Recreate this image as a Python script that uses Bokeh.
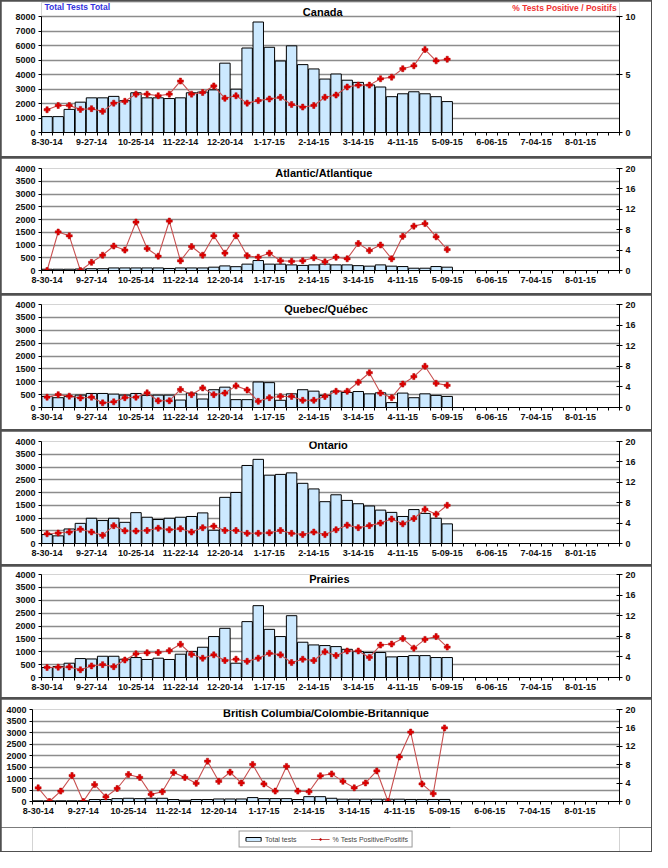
from bokeh.plotting import figure
from bokeh.models import Range1d, LinearAxis, FixedTicker, Label, Legend, LegendItem
from bokeh.layouts import column
from bokeh.embed import file_html
from bokeh.resources import INLINE

# ---------------- data ----------------
N_WEEKS = 52
TICK_EVERY = 4
tick_labels = ["8-30-14", "9-27-14", "10-25-14", "11-22-14", "12-20-14", "1-17-15",
               "2-14-15", "3-14-15", "4-11-15", "5-09-15", "6-06-15", "7-04-15", "8-01-15"]

canada_tests = [1100, 1100, 1600, 2100, 2400, 2400, 2500, 2200, 2750, 2400, 2400, 2350, 2400,
                2750, 2800, 2950, 4800, 3000, 5850, 7650, 5900, 4950, 6000, 4700, 4400, 3700,
                4050, 3620, 3470, 3290, 3150, 2480, 2680, 2820, 2680, 2480, 2140]
canada_pct = [1.97, 2.34, 2.34, 2.0, 2.06, 1.83, 2.54, 2.7, 3.32, 3.32, 3.18, 3.32, 4.45,
              3.32, 3.46, 4.03, 2.96, 3.18, 2.54, 2.76, 2.9, 3.04, 2.42, 2.2, 2.34, 3.05,
              3.24, 3.94, 4.1, 4.1, 4.65, 4.79, 5.52, 5.77, 7.18, 6.2, 6.34]

atl_tests = [50, 50, 50, 60, 70, 70, 100, 100, 100, 100, 100, 80, 100, 100, 100, 130, 180,
             150, 250, 390, 250, 250, 220, 200, 220, 250, 220, 220, 190, 170, 220, 170, 155,
             90, 90, 155, 130]
atl_pct = [0, 7.55, 6.8, 0, 1.6, 3.0, 4.8, 4.0, 9.5, 4.3, 2.8, 9.7, 1.9, 4.7, 3.0, 6.8, 3.4,
           6.8, 2.9, 2.6, 3.4, 1.9, 1.8, 1.9, 2.5, 1.7, 2.6, 2.3, 5.3, 3.9, 5.0, 2.3, 6.7,
           8.7, 9.2, 6.6, 4.1]

que_tests = [430, 380, 430, 480, 545, 545, 520, 480, 545, 470, 480, 480, 290, 560, 330, 690,
             790, 305, 305, 990, 965, 280, 530, 690, 635, 470, 635, 585, 620, 530, 570, 190,
             560, 380, 530, 470, 430]
que_pct = [2.0, 2.5, 2.2, 1.85, 2.0, 0.9, 1.1, 1.9, 2.0, 2.85, 1.3, 1.3, 3.5, 2.5, 3.8, 2.5,
           2.8, 4.2, 3.4, 1.2, 1.9, 2.15, 2.15, 1.4, 1.4, 2.15, 3.15, 3.15, 4.9, 6.75, 2.8,
           1.9, 4.55, 6.0, 8.0, 4.7, 4.3]

ont_tests = [350, 300, 570, 790, 990, 900, 990, 830, 1210, 1030, 940, 990, 1030, 1060, 1200,
             520, 1810, 2000, 3060, 3300, 2680, 2710, 2770, 2360, 2140, 1640, 1910, 1690,
             1560, 1470, 1310, 1220, 1060, 1330, 1180, 990, 770]
ont_pct = [1.9, 2.05, 2.25, 2.8, 2.25, 1.6, 3.5, 2.5, 2.45, 2.55, 3.0, 2.7, 2.9, 2.25, 3.1,
           3.4, 2.55, 2.55, 2.0, 2.0, 2.1, 2.55, 2.0, 1.75, 2.25, 1.75, 2.7, 3.6, 3.1, 3.5,
           4.0, 4.8, 3.85, 4.9, 6.7, 5.75, 7.5]

pra_tests = [390, 425, 555, 735, 720, 825, 825, 710, 775, 700, 750, 700, 905, 1005, 1175,
             1590, 1910, 555, 2170, 2790, 1870, 1590, 2400, 1370, 1265, 1240, 1200, 1095,
             1005, 970, 970, 800, 815, 850, 850, 775, 775]
pra_pct = [1.95, 2.0, 2.05, 1.5, 2.25, 2.5, 2.1, 3.4, 4.6, 4.8, 4.85, 5.2, 6.45, 4.5, 3.75,
           4.4, 3.3, 3.55, 3.15, 3.75, 4.7, 4.4, 2.9, 3.55, 3.3, 5.0, 4.25, 5.15, 5.15, 3.9,
           6.3, 6.5, 7.55, 5.7, 7.4, 7.95, 5.9]

bc_tests = [30, 30, 30, 30, 30, 85, 85, 125, 140, 125, 140, 140, 85, 55, 85, 85, 110, 110,
            110, 170, 125, 125, 125, 85, 210, 210, 140, 100, 100, 100, 100, 100, 100, 90, 90,
            90, 90]
bc_pct = [2.97, 0, 2.26, 5.65, 0, 3.67, 1.0, 2.83, 5.87, 5.23, 1.55, 2.12, 6.29, 5.23, 3.96,
          8.76, 4.38, 6.36, 4.03, 8.06, 3.82, 2.26, 7.63, 2.26, 2.12, 5.58, 6.0, 4.38, 2.97,
          4.03, 6.64, 0, 9.68, 15.1, 3.82, 1.7, 16.0]

legend_labels = ["Total tests", "% Tests Positive/Positifs"]

# ---------------- style ----------------
FONT = "Liberation Sans"
BAR_FILL = "#cce9ff"
LINE_COLOR = "#c85050"
MARK_COLOR = "#e00000"
MARK_EDGE = "#b00000"
GRID_COLOR = "#8c8c8c"
W = 650


def style_axis(ax):
    ax.axis_line_color = "black"
    ax.major_label_standoff = 3
    ax.major_label_text_font = FONT
    ax.major_label_text_font_style = "bold"
    ax.major_label_text_font_size = "9px"
    ax.major_label_text_color = "#111111"


def draw_series(p, tests, pct):
    idx = list(range(len(tests)))
    rb = p.vbar(x=idx, top=tests, bottom=0, width=0.94, fill_color=BAR_FILL,
                line_color="black", line_width=1)
    rl = p.line(idx, pct, y_range_name="pct", line_color=LINE_COLOR, line_width=1.1)
    rs = p.scatter(idx, pct, y_range_name="pct", marker="plus", size=6,
                   fill_color=MARK_COLOR, line_color=MARK_EDGE, line_width=0.5)
    return rb, rl, rs


def make_panel(title, tests, pct, ymax, ystep, pmax, pticks, height, borders, title_xy,
               margin, header=False, headroom=1.0):
    left, right, top, bottom = borders
    p = figure(width=W, height=height, output_backend="svg", toolbar_location=None, tools="",
               x_range=Range1d(-0.5, N_WEEKS - 0.5), y_range=Range1d(0, ymax * headroom),
               min_border_left=left, min_border_right=right, min_border_top=top,
               min_border_bottom=bottom, margin=margin)
    p.extra_y_ranges = {"pct": Range1d(0, pmax * headroom)}
    p.outline_line_color = None
    p.border_fill_color = "white"
    p.background_fill_color = "white"

    # x axis: labels at week centres, tick marks between weeks
    xa = p.xaxis[0]
    xa.ticker = FixedTicker(ticks=[i * TICK_EVERY for i in range(len(tick_labels))],
                            minor_ticks=[i - 0.5 for i in range(N_WEEKS + 1)])
    xa.major_label_overrides = {i * TICK_EVERY: lab for i, lab in enumerate(tick_labels)}
    xa.major_tick_line_color = None
    xa.major_tick_out = 3
    xa.major_tick_in = 0
    xa.minor_tick_out = 3
    xa.minor_tick_in = 0
    xa.minor_tick_line_color = "black"
    style_axis(xa)
    p.xgrid.visible = False

    # left axis
    lticks = list(range(0, ymax + 1, ystep))
    ya = p.yaxis[0]
    ya.ticker = FixedTicker(ticks=lticks)
    ya.bounds = (0, ymax)
    ya.major_tick_out = 3
    ya.major_tick_in = 0
    ya.minor_tick_line_color = None
    style_axis(ya)
    p.ygrid.ticker = FixedTicker(ticks=lticks)
    p.ygrid.grid_line_color = GRID_COLOR
    p.ygrid.grid_line_width = 1.4

    # right axis
    ra = LinearAxis(y_range_name="pct", ticker=FixedTicker(ticks=pticks), bounds=(0, pmax))
    ra.major_tick_out = 3
    ra.major_tick_in = 3
    ra.minor_tick_line_color = None
    style_axis(ra)
    p.add_layout(ra, "right")

    draw_series(p, tests, pct)

    p.add_layout(Label(x=title_xy[0], y=title_xy[1], text=title, text_font=FONT,
                       text_font_style="bold", text_font_size="11px", text_align="center",
                       text_baseline="middle", text_color="#000000"))

    if header:
        p.add_layout(Label(x=-0.24, y=ymax * 1.085, text="Total Tests Total", text_font=FONT,
                           text_font_style="bold", text_font_size="8.5px", text_align="left",
                           text_baseline="middle", text_color="#3333dd"))
        p.add_layout(Label(x=51.24, y=ymax * 1.076, text="% Tests Positive / Positifs",
                           text_font=FONT, text_font_style="bold", text_font_size="8.5px",
                           text_align="right", text_baseline="middle", text_color="#ee3333"))
    return p


def make_legend_strip(tests, pct, height, margin):
    # the series are drawn into a range that shows nothing; only the legend is visible
    q = figure(width=W, height=height, output_backend="svg", toolbar_location=None, tools="",
               x_axis_location=None, y_axis_location=None,
               x_range=Range1d(-0.5, N_WEEKS - 0.5), y_range=Range1d(-2, -1),
               min_border_left=0, min_border_right=0, min_border_top=0, min_border_bottom=0,
               margin=margin)
    q.extra_y_ranges = {"pct": Range1d(-2, -1)}
    q.outline_line_color = None
    q.xgrid.visible = False
    q.ygrid.visible = False
    q.border_fill_color = "white"
    q.background_fill_color = "white"
    rb, rl, rs = draw_series(q, tests, pct)
    lg = Legend(items=[LegendItem(label=legend_labels[0], renderers=[rb]),
                       LegendItem(label=legend_labels[1], renderers=[rl, rs])],
                orientation="horizontal", location="center")
    lg.label_text_font = FONT
    lg.label_text_font_size = "7px"
    lg.glyph_width = 19
    lg.glyph_height = 5
    lg.label_height = 6
    lg.label_standoff = 3
    lg.spacing = 14
    lg.padding = 4
    lg.margin = 0
    lg.border_line_color = "#333333"
    lg.border_line_width = 1
    lg.background_fill_color = "white"
    q.add_layout(lg)
    return q


T20 = [0, 4, 8, 12, 16, 20]
panels = [
    make_panel("Canada", canada_tests, canada_pct, 8000, 1000, 10, [0, 5, 10], 155,
               (40, 25, 1, 24), (24.8, 8330), (1, 1, 0, 1), header=True, headroom=1.125),
    make_panel("Atlantic/Atlantique", atl_tests, atl_pct, 4000, 500, 20, T20,
               135, (40, 26, 10, 23), (24.9, 3840), (0, 1, 0, 1)),
    make_panel("Quebec/Québec", que_tests, que_pct, 4000, 500, 20, T20,
               134, (38, 28, 9, 22), (25.1, 3840), (0, 1, 0, 1)),
    make_panel("Ontario", ont_tests, ont_pct, 4000, 500, 20, T20,
               133, (33, 29, 10, 21), (25.3, 3860), (0, 1, 0, 1)),
    make_panel("Prairies", pra_tests, pra_pct, 4000, 500, 20, T20,
               131, (33, 32, 8, 20), (25.4, 3810), (0, 1, 0, 1)),
    make_panel("British Columbia/Colombie-Britannique", bc_tests, bc_pct, 4000, 500, 20, T20,
               128, (31, 32, 10, 26), (25.5, 3835), (0, 1, 0, 1)),
]

last = column(panels[-1], make_legend_strip(bc_tests, bc_pct, 24, (0, 1, 1, 1)), spacing=0)
layout = column(*panels[:-1], last, spacing=2, styles={"background-color": "#505050"})

open("out.html", "w").write(file_html(layout, INLINE))
